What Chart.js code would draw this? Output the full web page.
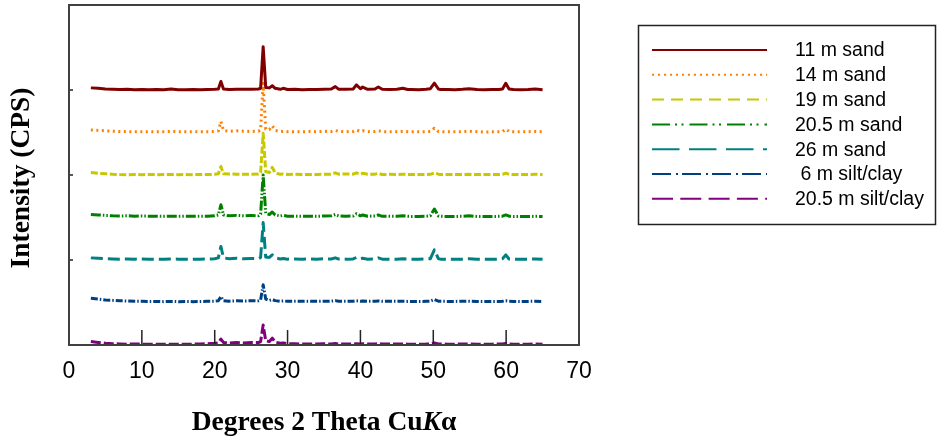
<!DOCTYPE html>
<html>
<head>
<meta charset="utf-8">
<title>XRD patterns</title>
<script src="https://cdn.jsdelivr.net/npm/chart.js@4/dist/chart.umd.min.js"></script>
<style>
  html, body { margin: 0; padding: 0; background: #fff; }
  #wrap { position: relative; width: 938px; height: 438px; }
</style>
</head>
<body>
<div id="wrap"><canvas id="xrd" width="938" height="438"></canvas></div>
<script>
// Diffraction angle (degrees 2θ, Cu Kα) shared by every pattern
const twoTheta = [
  3, 4, 5, 6, 7, 8, 9, 10, 11, 12, 13, 14, 15, 16, 17, 18, 19, 20,
  20.5, 20.85, 21.2, 22, 23, 24, 25, 26, 26.3, 26.65, 27, 27.5, 27.9, 28.3,
  29, 29.4, 30, 31, 32, 33, 34, 35, 36, 36.55, 37, 38, 39, 39.45, 40, 40.3,
  41, 42, 42.45, 43, 44, 45, 45.8, 46.5, 47, 48, 49, 49.6, 50.15, 50.7,
  51, 52, 53, 54, 54.9, 56, 57, 58, 59, 59.5, 59.95, 60.4, 61, 62, 63, 64, 65
];

// Relative intensity of each sample (plotted on a stacked, unlabeled axis)
const sand11m = [
  0.025, 0.02, 0.012, 0.01, 0.006, 0.008, 0.004, 0.006, 0.003, 0.005, 0.004, 0.012, 0.004, 0.003, 0.005, 0.004, 0.006, 0.008,
  0.012, 0.10, 0.012, 0.006, 0.01, 0.008, 0.01, 0.012, 0.02, 0.51, 0.03, 0.025, 0.05, 0.02,
  0.008, 0.02, 0.006, 0.01, 0.004, 0.006, 0.005, 0.01, 0.012, 0.04, 0.01, 0.008, 0.012, 0.06, 0.015, 0.035,
  0.008, 0.012, 0.035, 0.008, 0.006, 0.008, 0.02, 0.006, 0.005, 0.004, 0.01, 0.015, 0.08, 0.012,
  0.006, 0.005, 0.004, 0.008, 0.015, 0.006, 0.004, 0.005, 0.006, 0.012, 0.08, 0.012, 0.005, 0.004, 0.005, 0.012, 0.004
];
const sand14m = [
  0.03, 0.025, 0.02, 0.015, 0.012, 0.01, 0.01, 0.008, 0.01, 0.008, 0.01, 0.012, 0.01, 0.008, 0.01, 0.009, 0.01, 0.012,
  0.02, 0.13, 0.025, 0.015, 0.02, 0.015, 0.012, 0.015, 0.03, 0.58, 0.04, 0.035, 0.08, 0.025,
  0.01, 0.015, 0.01, 0.01, 0.008, 0.012, 0.01, 0.014, 0.012, 0.025, 0.012, 0.01, 0.012, 0.03, 0.012, 0.02,
  0.01, 0.012, 0.02, 0.01, 0.008, 0.01, 0.012, 0.01, 0.008, 0.008, 0.01, 0.012, 0.05, 0.012,
  0.01, 0.008, 0.008, 0.01, 0.015, 0.01, 0.006, 0.008, 0.008, 0.01, 0.04, 0.012, 0.008, 0.008, 0.01, 0.012, 0.01
];
const sand19m = [
  0.03, 0.02, 0.015, 0.008, 0.005, 0.004, 0.006, 0.004, 0.006, 0.004, 0.005, 0.006, 0.004, 0.005, 0.004, 0.006, 0.005, 0.008,
  0.015, 0.10, 0.015, 0.012, 0.01, 0.008, 0.01, 0.012, 0.03, 0.49, 0.04, 0.03, 0.09, 0.025,
  0.008, 0.012, 0.006, 0.008, 0.006, 0.005, 0.007, 0.008, 0.01, 0.025, 0.01, 0.012, 0.01, 0.025, 0.01, 0.02,
  0.008, 0.01, 0.02, 0.006, 0.008, 0.006, 0.01, 0.006, 0.006, 0.005, 0.006, 0.008, 0.025, 0.01,
  0.006, 0.005, 0.006, 0.006, 0.008, 0.005, 0.006, 0.005, 0.006, 0.008, 0.022, 0.008, 0.006, 0.005, 0.006, 0.008, 0.006
];
const sand20_5m = [
  0.035, 0.03, 0.025, 0.02, 0.018, 0.02, 0.016, 0.018, 0.015, 0.016, 0.014, 0.016, 0.015, 0.016, 0.014, 0.015, 0.016, 0.02,
  0.03, 0.15, 0.03, 0.02, 0.025, 0.02, 0.025, 0.02, 0.04, 0.50, 0.05, 0.035, 0.065, 0.03,
  0.018, 0.025, 0.015, 0.016, 0.014, 0.015, 0.014, 0.018, 0.02, 0.035, 0.02, 0.016, 0.018, 0.045, 0.02, 0.03,
  0.015, 0.018, 0.03, 0.014, 0.016, 0.015, 0.02, 0.014, 0.012, 0.012, 0.015, 0.02, 0.10, 0.018,
  0.014, 0.012, 0.012, 0.014, 0.02, 0.012, 0.012, 0.012, 0.014, 0.016, 0.03, 0.015, 0.012, 0.012, 0.012, 0.014, 0.012
];
const sand26m = [
  0.025, 0.02, 0.015, 0.012, 0.01, 0.012, 0.01, 0.012, 0.009, 0.01, 0.01, 0.012, 0.01, 0.009, 0.01, 0.01, 0.012, 0.014,
  0.025, 0.16, 0.025, 0.015, 0.02, 0.015, 0.018, 0.015, 0.03, 0.44, 0.035, 0.03, 0.06, 0.025,
  0.012, 0.018, 0.01, 0.012, 0.01, 0.012, 0.01, 0.014, 0.012, 0.025, 0.012, 0.01, 0.012, 0.03, 0.012, 0.02,
  0.01, 0.012, 0.025, 0.01, 0.01, 0.01, 0.015, 0.01, 0.009, 0.01, 0.012, 0.015, 0.12, 0.015,
  0.01, 0.01, 0.009, 0.01, 0.014, 0.01, 0.009, 0.01, 0.01, 0.014, 0.06, 0.012, 0.01, 0.009, 0.01, 0.012, 0.01
];
const siltClay6m = [
  0.05, 0.04, 0.03, 0.025, 0.02, 0.018, 0.015, 0.014, 0.012, 0.012, 0.01, 0.012, 0.01, 0.012, 0.01, 0.012, 0.014, 0.016,
  0.02, 0.07, 0.022, 0.016, 0.02, 0.018, 0.02, 0.02, 0.03, 0.21, 0.04, 0.025, 0.035, 0.022,
  0.015, 0.018, 0.014, 0.016, 0.014, 0.015, 0.014, 0.016, 0.016, 0.022, 0.015, 0.014, 0.015, 0.02, 0.015, 0.018,
  0.014, 0.015, 0.018, 0.014, 0.014, 0.014, 0.016, 0.013, 0.013, 0.012, 0.014, 0.016, 0.035, 0.016,
  0.014, 0.013, 0.013, 0.014, 0.016, 0.013, 0.012, 0.013, 0.013, 0.014, 0.02, 0.014, 0.013, 0.012, 0.013, 0.014, 0.013
];
const siltClay20_5m = [
  0.04, 0.03, 0.02, 0.015, 0.012, 0.01, 0.012, 0.01, 0.01, 0.009, 0.01, 0.01, 0.009, 0.01, 0.01, 0.012, 0.014, 0.02,
  0.025, 0.07, 0.03, 0.022, 0.03, 0.025, 0.03, 0.028, 0.04, 0.235, 0.05, 0.04, 0.08, 0.035,
  0.02, 0.025, 0.015, 0.014, 0.012, 0.012, 0.012, 0.014, 0.012, 0.018, 0.012, 0.011, 0.012, 0.016, 0.012, 0.015,
  0.011, 0.012, 0.016, 0.011, 0.011, 0.011, 0.013, 0.01, 0.01, 0.01, 0.011, 0.013, 0.025, 0.013,
  0.011, 0.01, 0.01, 0.011, 0.013, 0.01, 0.01, 0.01, 0.011, 0.012, 0.018, 0.012, 0.01, 0.01, 0.01, 0.011, 0.01
];

const seriesLabels = ['11 m sand', '14 m sand', '19 m sand', '20.5 m sand', '26 m sand', ' 6 m silt/clay', '20.5 m silt/clay'];
const seriesValues = [sand11m, sand14m, sand19m, sand20_5m, sand26m, siltClay6m, siltClay20_5m];
// Vertical offset that separates the stacked patterns
const stackOffsets = [3.0, 2.5, 2.0, 1.5, 1.0, 0.5, 0.0];

const xTickValues = [0, 10, 20, 30, 40, 50, 60, 70];
const yTickValues = [1, 2, 3];

// Line styles
const lineColors = ['#800000', '#FF8000', '#C8C800', '#008000', '#008080', '#004080', '#800080'];
const plotDashes = [[], [2, 3.5], [7, 2.5], [10, 2, 1.5, 2, 1.5, 2], [12, 5], [7, 2, 1.5, 2], [10, 3]];
const legendDashes = [[], [2, 4], [12, 7], [18, 5, 2, 4.5, 2, 6], [27.5, 9.5], [19, 5, 2, 4], [21, 7.3]];

const SANS = '"Liberation Sans", Arial, sans-serif';
const SERIF = '"Liberation Serif", "Times New Roman", serif';

const datasets = seriesLabels.map((label, i) => ({
  label,
  data: twoTheta.map((t, j) => ({ x: t, y: stackOffsets[i] + seriesValues[i][j] })),
  borderColor: lineColors[i],
  borderDash: plotDashes[i],
  borderWidth: 3,
  borderJoinStyle: 'round',
  pointRadius: 0,
  tension: 0,
  fill: false,
  clip: false
}));

// Frame, inward tick marks, axis titles and the boxed legend
const decorations = {
  id: 'decorations',
  afterDatasetsDraw(chart) {
    const { ctx, chartArea: a, scales: { x, y } } = chart;
    ctx.save();
    ctx.strokeStyle = '#222';
    ctx.lineWidth = 1.5;
    ctx.beginPath();
    xTickValues.forEach(v => {
      if (v <= x.min || v >= x.max) return;
      const px = x.getPixelForValue(v);
      ctx.moveTo(px, a.bottom);
      ctx.lineTo(px, a.bottom - 15);
    });
    yTickValues.forEach(v => {
      const py = y.getPixelForValue(v);
      ctx.moveTo(a.left, py);
      ctx.lineTo(a.left + 4, py);
    });
    ctx.stroke();
    ctx.strokeStyle = '#404040';
    ctx.lineWidth = 2;
    ctx.strokeRect(a.left, a.top, a.right - a.left, a.bottom - a.top);
    ctx.restore();
  },
  afterDraw(chart) {
    const { ctx, chartArea: a } = chart;
    ctx.save();
    ctx.fillStyle = '#000';

    // y-axis title
    ctx.save();
    ctx.translate(22, (a.top + a.bottom) / 2 + 3);
    ctx.rotate(-Math.PI / 2);
    ctx.font = 'bold 27.5px ' + SERIF;
    ctx.textAlign = 'center';
    ctx.textBaseline = 'middle';
    ctx.fillText('Intensity (CPS)', 0, 0);
    ctx.restore();

    // x-axis title with italic K
    const parts = [
      { t: 'Degrees 2 Theta Cu', f: 'bold 27.5px ' + SERIF },
      { t: 'K', f: 'italic bold 27.5px ' + SERIF },
      { t: 'α', f: 'bold 27.5px ' + SERIF }
    ];
    let total = 0;
    parts.forEach(p => { ctx.font = p.f; p.w = ctx.measureText(p.t).width; total += p.w; });
    let tx = (a.left + a.right) / 2 - total / 2;
    ctx.textAlign = 'left';
    ctx.textBaseline = 'alphabetic';
    parts.forEach(p => { ctx.font = p.f; ctx.fillText(p.t, tx, 430); tx += p.w; });

    // legend
    ctx.strokeStyle = '#222';
    ctx.lineWidth = 1.5;
    ctx.strokeRect(638.5, 25.5, 297, 199);
    ctx.font = '19.5px ' + SANS;
    ctx.textBaseline = 'middle';
    chart.data.datasets.forEach((ds, i) => {
      const ly = 50 + i * 24.8;
      ctx.beginPath();
      ctx.setLineDash(legendDashes[i]);
      ctx.strokeStyle = ds.borderColor;
      ctx.lineWidth = 2;
      ctx.moveTo(652, ly);
      ctx.lineTo(767, ly);
      ctx.stroke();
      ctx.setLineDash([]);
      ctx.fillStyle = '#000';
      ctx.fillText(ds.label, 795, ly + 1);
    });
    ctx.restore();
  }
};

new Chart(document.getElementById('xrd'), {
  type: 'line',
  data: { datasets },
  options: {
    responsive: false,
    animation: false,
    devicePixelRatio: 1,
    layout: { padding: { left: 0, right: 359, top: 5, bottom: 0 } },
    plugins: { legend: { display: false }, tooltip: { enabled: false } },
    scales: {
      x: {
        type: 'linear',
        min: 0,
        max: 70,
        afterBuildTicks: s => { s.ticks = xTickValues.map(v => ({ value: v })); },
        ticks: { color: '#000', font: { family: SANS, size: 23 }, padding: 13, maxRotation: 0, autoSkip: false },
        grid: { display: false, drawTicks: false },
        border: { display: false },
        afterFit: s => { s.height = 93; }
      },
      y: {
        type: 'linear',
        min: 0,
        max: 4,
        ticks: { display: false },
        grid: { display: false, drawTicks: false },
        border: { display: false },
        afterFit: s => { s.width = 69; }
      }
    }
  },
  plugins: [decorations]
});
</script>
</body>
</html>
